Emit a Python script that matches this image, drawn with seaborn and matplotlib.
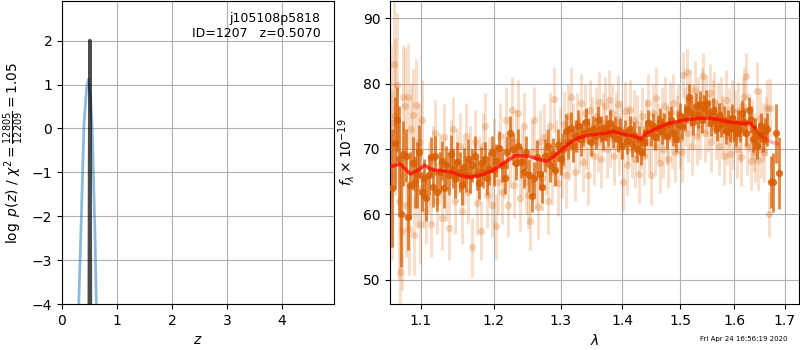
import numpy as np
import pandas as pd
import matplotlib
matplotlib.use("Agg")
import matplotlib.pyplot as plt
import matplotlib.ticker as mticker
import seaborn as sns

# ---- p(z) panel ----
pz_z = [0.28, 0.30, 0.35, 0.40, 0.45, 0.48, 0.52, 0.55, 0.60, 0.63, 0.65]
pz_logp = [-5.0, -4.2, -2.1, 0.1, 0.95, 1.12, 0.7, 0.0, -2.4, -4.3, -5.0]
spike_z = [0.492, 0.500, 0.507, 0.514, 0.522]
spike_logp = [-6.0, -2.0, 2.0, -2.0, -6.0]

# ---- spectrum: model ----
model_wave = [1.060, 1.073, 1.086, 1.095, 1.105, 1.115, 1.126, 1.140, 1.155, 1.168,
              1.185, 1.200, 1.215, 1.232, 1.251, 1.265, 1.279, 1.290, 1.302, 1.315,
              1.328, 1.345, 1.360, 1.372, 1.384, 1.395, 1.410, 1.420, 1.431, 1.440,
              1.455, 1.476, 1.495, 1.513, 1.537, 1.556, 1.575, 1.600, 1.620, 1.632,
              1.640]
model_flux = [67.3, 67.7, 66.2, 66.7, 67.5, 66.8, 66.7, 66.5, 65.9, 65.7,
              66.1, 66.8, 67.9, 69.0, 68.9, 68.5, 68.1, 68.9, 69.9, 71.0,
              71.7, 72.1, 72.3, 72.4, 72.7, 72.4, 72.1, 72.0, 71.5, 72.4,
              73.0, 73.8, 74.2, 74.5, 74.7, 74.7, 74.4, 74.0, 73.9, 73.9,
              73.3]
tail_wave = [1.640, 1.645, 1.655, 1.665, 1.675, 1.686]
tail_flux = [73.3, 72.7, 71.9, 71.4, 71.0, 70.8]

# ---- spectrum: strong points ----
dark_wave = [1.062, 1.066, 1.069, 1.071, 1.074, 1.077, 1.080, 1.083, 1.086, 1.089,
             1.092, 1.095, 1.098, 1.101, 1.104, 1.107, 1.110, 1.113, 1.116, 1.119,
             1.122, 1.125, 1.128, 1.131, 1.134, 1.137, 1.140, 1.143, 1.146, 1.149,
             1.152, 1.155, 1.158, 1.161, 1.164, 1.167, 1.170, 1.173, 1.176, 1.179,
             1.182, 1.185, 1.188, 1.191, 1.194, 1.197, 1.200, 1.204, 1.208, 1.212,
             1.216, 1.220, 1.224, 1.228, 1.232, 1.236, 1.240, 1.244, 1.248, 1.252,
             1.256, 1.260, 1.264, 1.268, 1.272, 1.276, 1.280, 1.284, 1.288, 1.292,
             1.296, 1.300, 1.304, 1.308, 1.312, 1.316, 1.320, 1.324, 1.328, 1.332,
             1.336, 1.340, 1.344, 1.348, 1.352, 1.356, 1.360, 1.364, 1.368, 1.372,
             1.376, 1.380, 1.384, 1.388, 1.392, 1.396, 1.400, 1.404, 1.408, 1.412,
             1.416, 1.420, 1.424, 1.428, 1.432, 1.436, 1.440, 1.444, 1.448, 1.452,
             1.456, 1.460, 1.464, 1.468, 1.472, 1.476, 1.480, 1.484, 1.488, 1.492,
             1.496, 1.500, 1.504, 1.508, 1.512, 1.516, 1.520, 1.524, 1.528, 1.532,
             1.536, 1.540, 1.544, 1.548, 1.552, 1.556, 1.560, 1.564, 1.568, 1.572,
             1.576, 1.580, 1.584, 1.588, 1.592, 1.596, 1.600, 1.604, 1.608, 1.612,
             1.616, 1.620, 1.624, 1.628, 1.632, 1.636, 1.640, 1.644, 1.648, 1.652,
             1.656, 1.660, 1.664, 1.672, 1.677, 1.682, 1.689]
dark_flux = [64.0, 70.9, 74.5, 68.5, 60.0, 69.3, 69.0, 59.6, 64.5, 67.8,
             65.0, 66.0, 69.6, 63.5, 65.5, 62.5, 66.0, 68.8, 64.2, 69.0,
             63.5, 66.5, 68.2, 64.0, 67.5, 66.0, 69.2, 67.0, 65.5, 68.0,
             66.5, 64.5, 67.2, 66.0, 68.5, 65.8, 67.5, 69.0, 66.2, 64.8,
             67.8, 66.5, 68.5, 65.5, 67.0, 69.5, 66.8, 68.2, 70.2, 67.5,
             65.6, 69.5, 72.5, 70.0, 67.8, 70.5, 68.0, 66.5, 69.5, 66.0,
             62.8, 65.5, 68.8, 66.2, 64.2, 69.0, 70.5, 67.5, 69.2, 66.8,
             70.6, 68.5, 70.0, 72.8, 71.0, 73.2, 70.5, 72.0, 73.5, 71.5,
             72.5, 74.2, 72.8, 71.0, 73.0, 72.0, 74.5, 73.0, 71.8, 73.2,
             72.5, 74.0, 72.2, 73.0, 71.5, 72.8, 70.5, 72.5, 71.2, 73.0,
             70.8, 72.2, 70.0, 71.5, 69.5, 71.0, 72.5, 74.0, 72.5, 73.5,
             71.8, 73.2, 74.2, 72.8, 73.5, 72.0, 73.8, 74.5, 72.5, 71.5,
             73.8, 75.0, 73.5, 74.8, 76.0, 78.0, 75.5, 74.2, 76.5, 75.2,
             76.8, 74.5, 76.2, 77.0, 75.5, 74.0, 75.8, 74.5, 73.2, 75.0,
             73.8, 74.5, 72.8, 74.0, 73.0, 74.8, 73.2, 72.5, 74.0, 73.0,
             75.5, 74.2, 72.5, 76.0, 74.5, 71.5, 72.8, 70.5, 72.2, 73.5,
             71.5, 72.8, 73.0, 65.0, 64.9, 72.4, 66.4]
dark_err = [9, 7, 5, 8, 8, 5, 4, 5, 5, 4,
            4, 5, 4, 3, 3, 3.5, 3, 3, 3, 3,
            3, 3, 3, 3, 3, 3, 3, 3, 3, 3,
            3, 3, 3, 2.5, 3, 2.5, 2.5, 3, 2.5, 2.5,
            2.5, 2.5, 2.5, 2.5, 2.5, 2.5, 2.5, 2.5, 2.5, 2.5,
            2.5, 2.5, 2.5, 2.5, 2.5, 2.5, 2.5, 2.5, 2.5, 2.5,
            2.5, 2.5, 2.5, 2.5, 2.5, 2.5, 2.5, 2.5, 2.5, 2.5,
            2.5, 2.5, 2.5, 2.5, 2.5, 2.5, 2.5, 2.5, 2.5, 2.5,
            2, 2, 2, 2, 2, 2, 2, 2, 2, 2,
            2, 2, 2, 2, 2, 2, 2, 2, 2, 2,
            2, 2, 2, 2, 2, 2, 2, 2, 2, 2,
            2, 2, 2, 2, 2, 2, 2, 2, 2, 2,
            2, 2, 2, 2, 2, 2, 2, 2, 2, 2,
            2, 2, 2, 2, 2, 2, 2, 2, 2, 2,
            2, 2, 2, 2, 2, 2, 2, 2, 2, 2,
            2, 2, 2, 2, 2, 2, 2, 2, 2, 2,
            2, 2, 2.5, 4, 4.5, 4.5, 5.5]

# ---- spectrum: faint points ----
light_wave = [1.061, 1.063, 1.065, 1.067, 1.069, 1.071, 1.073, 1.075, 1.077, 1.079,
              1.081, 1.083, 1.085, 1.087, 1.089, 1.091, 1.093, 1.095, 1.097, 1.099,
              1.101, 1.104, 1.107, 1.110, 1.113, 1.116, 1.119, 1.122, 1.125, 1.128,
              1.131, 1.134, 1.137, 1.140, 1.143, 1.146, 1.149, 1.152, 1.155, 1.158,
              1.161, 1.164, 1.167, 1.170, 1.173, 1.176, 1.179, 1.182, 1.185, 1.188,
              1.191, 1.194, 1.197, 1.200, 1.203, 1.206, 1.209, 1.212, 1.215, 1.218,
              1.221, 1.224, 1.227, 1.230, 1.233, 1.236, 1.239, 1.242, 1.245, 1.248,
              1.251, 1.254, 1.257, 1.260, 1.263, 1.266, 1.269, 1.272, 1.275, 1.278,
              1.281, 1.284, 1.287, 1.290, 1.293, 1.296, 1.299, 1.302, 1.305, 1.308,
              1.311, 1.314, 1.317, 1.320, 1.323, 1.326, 1.329, 1.332, 1.335, 1.338,
              1.341, 1.344, 1.347, 1.350, 1.353, 1.356, 1.359, 1.362, 1.365, 1.368,
              1.371, 1.374, 1.377, 1.380, 1.383, 1.386, 1.389, 1.392, 1.395, 1.398,
              1.401, 1.404, 1.407, 1.410, 1.413, 1.416, 1.419, 1.422, 1.425, 1.428,
              1.431, 1.434, 1.437, 1.440, 1.443, 1.446, 1.449, 1.452, 1.455, 1.458,
              1.461, 1.464, 1.467, 1.470, 1.473, 1.476, 1.479, 1.482, 1.485, 1.488,
              1.491, 1.494, 1.497, 1.500, 1.503, 1.506, 1.509, 1.512, 1.515, 1.518,
              1.521, 1.524, 1.527, 1.530, 1.533, 1.536, 1.539, 1.542, 1.545, 1.548,
              1.551, 1.554, 1.557, 1.560, 1.563, 1.566, 1.569, 1.572, 1.575, 1.578,
              1.581, 1.584, 1.587, 1.590, 1.593, 1.596, 1.599, 1.602, 1.605, 1.608,
              1.611, 1.614, 1.617, 1.620, 1.623, 1.626, 1.629, 1.632, 1.635, 1.638,
              1.641, 1.644, 1.647, 1.650, 1.653, 1.656, 1.659, 1.662, 1.665, 1.668,
              1.671]
light_flux = [74.0, 66.0, 83.0, 75.0, 79.7, 62.0, 51.2, 57.5, 77.9, 76.5,
              61.5, 78.0, 57.8, 73.0, 75.2, 56.8, 76.7, 64.0, 71.0, 58.5,
              74.5, 63.0, 60.5, 66.0, 58.5, 68.5, 72.5, 62.0, 67.5, 59.5,
              71.8, 64.0, 58.0, 69.5, 73.0, 62.0, 68.0, 70.5, 60.5, 66.5,
              72.0, 63.5, 68.5, 55.0, 71.0, 61.8, 67.0, 57.5, 70.5, 73.5,
              63.0, 66.8, 61.5, 69.8, 58.2, 65.0, 72.0, 63.5, 67.5, 74.5,
              61.5, 69.0, 76.0, 64.5, 71.0, 75.5, 62.5, 68.0, 73.5, 65.0,
              63.0, 59.0, 69.5, 74.5, 66.0, 61.2, 71.0, 65.5, 71.8, 68.0,
              62.0, 73.5, 66.5, 77.6, 69.5, 64.8, 71.2, 67.5, 73.8, 66.0,
              75.0, 70.2, 78.0, 72.5, 66.5, 74.0, 70.8, 77.0, 68.0, 75.5,
              71.5, 66.0, 76.0, 73.5, 69.0, 75.0, 71.0, 77.2, 68.5, 74.0,
              76.5, 70.0, 77.5, 71.8, 75.5, 69.0, 74.2, 76.8, 70.5, 73.0,
              65.0, 75.8, 67.5, 72.2, 76.0, 70.0, 74.5, 68.5, 73.8, 66.2,
              71.5, 75.0, 69.0, 73.2, 77.0, 71.0, 66.0, 75.5, 70.5, 77.8,
              72.5, 67.8, 75.0, 70.0, 76.5, 72.0, 68.5, 75.8, 71.5, 77.0,
              69.5, 73.8, 75.5, 71.5, 69.5, 81.3, 75.0, 81.7, 72.5, 77.5,
              70.5, 75.5, 79.0, 72.0, 76.5, 73.0, 77.8, 81.2, 72.5, 76.8,
              74.0, 78.5, 71.0, 76.0, 77.2, 73.0, 75.8, 70.5, 76.5, 73.8,
              69.0, 77.5, 72.0, 74.8, 69.2, 76.0, 71.5, 74.5, 70.0, 75.8,
              72.5, 68.8, 76.5, 78.0, 81.2, 70.5, 74.0, 68.2, 73.0, 71.0,
              69.5, 78.8, 68.3, 74.8, 70.0, 72.5, 69.5, 73.5, 76.2, 60.0,
              76.2]
light_err = [12, 13, 11, 12, 11, 12, 9, 9, 8, 9,
             8, 8, 7, 7, 7, 6, 7, 6, 6, 6,
             6, 5, 5, 5, 5, 5, 5, 5, 5, 5,
             5, 5, 5, 5, 5, 5, 5, 5, 5, 5,
             5, 5, 5, 4.5, 5, 5, 5, 4.5, 5, 5,
             5, 5, 5, 5, 5, 5, 5, 5, 5, 5,
             5, 5, 5, 5, 5, 5, 5, 5, 5, 5,
             5, 4.5, 5, 5, 5, 5, 5, 5, 5, 5,
             5, 5, 5, 5, 5, 5, 5, 5, 5, 5,
             5, 5, 4.5, 4.5, 4.5, 4.5, 4.5, 4.5, 4.5, 4.5,
             4.5, 4.5, 4.5, 4.5, 4.5, 4.5, 4.5, 4.5, 4.5, 4.5,
             4.5, 4.5, 4.5, 4.5, 4.5, 4.5, 4.5, 4.5, 4.5, 4.5,
             4.5, 4.5, 4.5, 4.5, 4.5, 4.5, 4.5, 4.5, 4.5, 4.5,
             4.5, 4.5, 4.5, 4.5, 4.5, 4.5, 4.5, 4.5, 4.5, 4.5,
             4.5, 4.5, 4.5, 4.5, 4.5, 4.5, 4.5, 4.5, 4.5, 4.5,
             4.5, 4.5, 4.5, 4.5, 4.5, 3.5, 4.5, 3.5, 4.5, 4.5,
             4.5, 4.5, 4.5, 4.5, 4.5, 4.5, 4.5, 3.5, 4.5, 4.5,
             4.5, 4.5, 4.5, 4.5, 4.5, 4.5, 4.5, 4.5, 4.5, 4.5,
             4.5, 4.5, 4.5, 4.5, 4.5, 4.5, 4.5, 4.5, 4.5, 4.5,
             4.5, 4.5, 4.5, 4.5, 3.5, 4.5, 4.5, 4.5, 4.5, 4.5,
             4.5, 4.5, 4.5, 4.5, 4.5, 4.5, 4.5, 4.5, 4.5, 3.5,
             4.5]

orange = '#d95f02'

fig = plt.figure(figsize=(8, 3.5), dpi=100)
ax1 = fig.add_axes([0.0775, 0.131, 0.34, 0.866])
ax2 = fig.add_axes([0.4875, 0.131, 0.511, 0.866])

# --- left panel: log p(z) ---
sns.lineplot(x=pz_z, y=pz_logp, ax=ax1, color='tab:blue', alpha=0.5, linewidth=2, sort=False)
sns.lineplot(x=spike_z, y=spike_logp, ax=ax1, color='k', alpha=0.7, linewidth=2.5, sort=False)
ax1.set_xlim(0, 4.95)
ax1.set_ylim(-4, 2.9)
ax1.set_xticks([0, 1, 2, 3, 4])
ax1.grid(True)
ax1.set_axisbelow(True)
ax1.set_xlabel('$z$')
ax1.set_ylabel(r'$\log\ p(z)$ / $\chi^2=\frac{12805}{12209}=1.05$')
ax1.text(0.95, 0.965, 'j105108p5818\nID=1207   z=0.5070', transform=ax1.transAxes,
         ha='right', va='top', fontsize=9)

# --- right panel: spectrum ---
df_light = pd.DataFrame({'wave': light_wave, 'flux': light_flux, 'err': light_err})
df_dark = pd.DataFrame({'wave': dark_wave, 'flux': dark_flux, 'err': dark_err})

ax2.errorbar(df_light['wave'], df_light['flux'], yerr=df_light['err'], fmt='none',
             ecolor=orange, alpha=0.2, elinewidth=2.2, zorder=2)
sns.scatterplot(data=df_light, x='wave', y='flux', ax=ax2, color=orange, alpha=0.25,
                s=28, linewidth=0, zorder=2)
ax2.errorbar(df_dark['wave'], df_dark['flux'], yerr=df_dark['err'], fmt='none',
             ecolor=orange, alpha=0.75, elinewidth=2.0, zorder=3)
sns.scatterplot(data=df_dark, x='wave', y='flux', ax=ax2, color=orange, alpha=0.85,
                s=28, linewidth=0, zorder=3)
sns.lineplot(x=model_wave, y=model_flux, ax=ax2, color='red', alpha=0.7, linewidth=2.5,
             sort=False, zorder=4)
sns.lineplot(x=tail_wave, y=tail_flux, ax=ax2, color='red', alpha=0.3, linewidth=2.5,
             sort=False, zorder=4)

ax2.set_xscale('log')
ax2.set_xlim(1.060, 1.729)
ax2.set_ylim(46.3, 92.6)
ax2.set_xticks([1.1, 1.2, 1.3, 1.4, 1.5, 1.6, 1.7])
ax2.xaxis.set_major_formatter(mticker.FormatStrFormatter('%.1f'))
ax2.xaxis.set_minor_locator(mticker.NullLocator())
ax2.xaxis.set_minor_formatter(mticker.NullFormatter())
ax2.set_yticks([50, 60, 70, 80, 90])
ax2.grid(True)
ax2.set_axisbelow(True)
ax2.set_xlabel(r'$\lambda$')
ax2.set_ylabel(r'$f_\lambda\times10^{-19}$')

fig.text(0.985, 0.031, 'Fri Apr 24 16:56:19 2020', ha='right', va='center', fontsize=5)

fig.savefig('out.png', dpi=100)
